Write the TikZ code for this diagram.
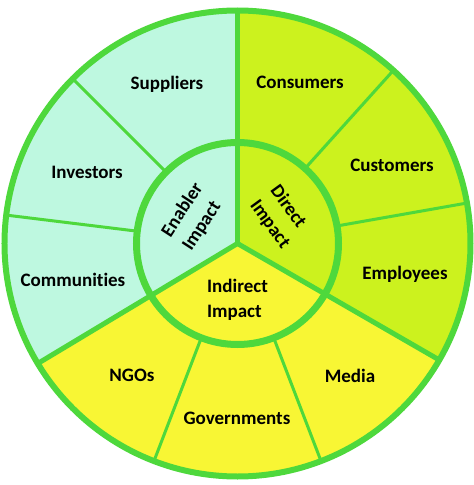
\documentclass[tikz,border=0pt]{standalone}
\usepackage{fontspec}
\setmainfont[Ligatures=NoCommon]{Carlito}
\definecolor{ringgreen}{RGB}{78,216,60}
\definecolor{enablerfill}{RGB}{190,248,224}
\definecolor{directfill}{RGB}{204,242,30}
\definecolor{indirectfill}{RGB}{248,246,52}
\begin{document}
\begin{tikzpicture}[x=1pt,y=1pt,
  lab/.style={font=\fontsize{19}{25}\selectfont\bfseries, text=black, align=left, inner sep=0pt},
  mainline/.style={draw=ringgreen, line width=5pt},
  thinline/.style={draw=ringgreen, line width=3pt},
  outerring/.style={draw=ringgreen, line width=6pt},
  innerring/.style={draw=ringgreen, line width=7pt}]
\useasboundingbox (-237.5,-241.5) rectangle (236.5,243.5);
\def\R{233}
\def\r{101}
\coordinate (o) at (0,0);
% sector fills
\fill[enablerfill] (o) -- (90:\R) arc[start angle=90,end angle=211,radius=\R] -- cycle;
\fill[directfill] (o) -- (90:\R) arc[start angle=90,end angle=-30,radius=\R] -- cycle;
\fill[indirectfill] (o) -- (-30:\R) arc[start angle=-30,end angle=-149,radius=\R] -- cycle;
% coordinates
\foreach \a in {90,211,-30,135,173,48,10,-111,-69}{
  \coordinate (i\a) at (\a:\r);
  \coordinate (e\a) at (\a:\R);
}
% main dividers
\foreach \a in {90,211,-30}{
  \draw[mainline] (o) -- (e\a);
}
% secondary dividers
\foreach \a in {135,173,48,10,-111,-69}{
  \draw[thinline] (i\a) -- (e\a);
}
% circles
\node[circle, outerring, minimum size=2*\R pt, inner sep=0pt] (outer) at (o) {};
\node[circle, innerring, minimum size=2*\r pt, inner sep=0pt] (inner) at (o) {};
% labels
\node[lab] (suppliers) at (-70.5,159.5) {Suppliers};
\node[lab] (investors) at (-150.5,71.5) {Investors};
\node[lab] (communities) at (-164.5,-36.5) {Communities};
\node[lab] (ngos) at (-105.5,-131.5) {NGOs};
\node[lab] (governments) at (-0.5,-174.5) {Governments};
\node[lab] (media) at (112.5,-132.5) {Media};
\node[lab] (employees) at (167.5,-30.5) {Employees};
\node[lab] (customers) at (154.5,78.5) {Customers};
\node[lab] (consumers) at (62.5,161.5) {Consumers};
\node[lab] (indirect) at (0,-56.5) {Indirect\\Impact};
\node[lab, rotate=57] (enabler) at (-44.5,26.5) {Enabler\\Impact};
\node[lab, rotate=-54] (direct) at (42.5,26.5) {Direct\\Impact};
\end{tikzpicture}
\end{document}
